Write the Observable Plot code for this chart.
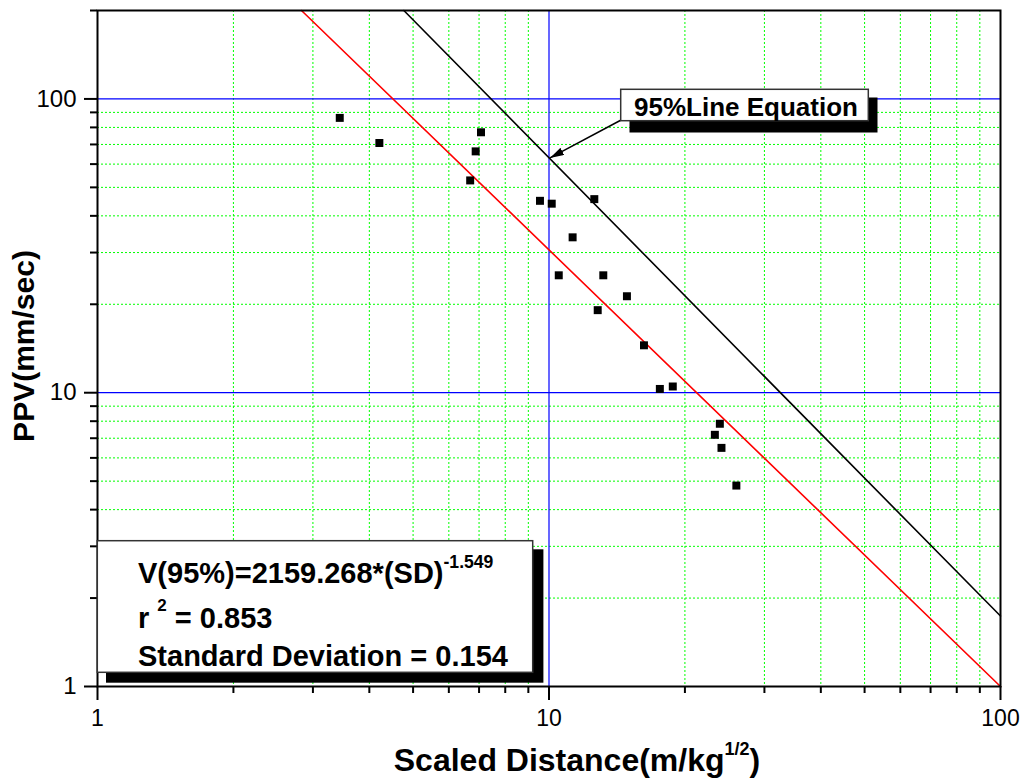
<!DOCTYPE html>
<html><head><meta charset="utf-8">
<script src="https://cdn.jsdelivr.net/npm/d3@7"></script>
<script src="https://cdn.jsdelivr.net/npm/@observablehq/plot@0.6"></script>
<style>body{margin:0;background:#fff} svg{display:block}</style>
</head><body><div id="chart"></div>
<script>
// Scatter data: scaled distance (m/kg^1/2) vs PPV (mm/sec)
const sd  = [3.44, 4.21, 7.07, 6.88, 6.69, 9.55, 10.14, 12.6, 11.28, 10.51, 13.19, 14.88, 12.82, 16.23, 17.6, 18.8, 23.9, 23.3, 24.1, 26.0];
const ppv = [86.2, 70.8, 77.0, 66.3, 52.8, 45.0, 44.0, 45.6, 33.8, 25.1, 25.1, 21.3, 19.1, 14.5, 10.3, 10.5, 7.84, 7.19, 6.49, 4.83];

// Regression (red) and 95% (black) lines, end points
const fitSD = [2.83, 100], fitPPV = [200, 1];
const l95SD = [4.77, 100], l95PPV = [200, 1.737];

// Arrow of the "95%Line Equation" label
const arrowSD = [14.41, 10.05], arrowPPV = [84.6, 63.0];

// Ticks / grid
const minorX = [2,3,4,5,6,7,8,9,20,30,40,50,60,70,80,90];
const minorY = [2,3,4,5,6,7,8,9,20,30,40,50,60,70,80,90,200];
const majorX = [1,10,100];
const majorY = [1,10,100];
const blueX = [10];
const blueY = [10,100];

// Texts
const eqMain = "V(95%)=2159.268*(SD)", eqExp = "-1.549";
const r2Text = "= 0.853";
const sdText = "Standard Deviation = 0.154";
const labelText = "95%Line Equation";

const points = sd.map((d, i) => ({sd: d, ppv: ppv[i]}));
const fitLine = fitSD.map((d, i) => ({sd: d, ppv: fitPPV[i]}));
const line95 = l95SD.map((d, i) => ({sd: d, ppv: l95PPV[i]}));
const arrow = [{x1: arrowSD[0], y1: arrowPPV[0], x2: arrowSD[1], y2: arrowPPV[1]}];

const chart = Plot.plot({
  width: 1033, height: 779,
  marginLeft: 97, marginRight: 33, marginTop: 10, marginBottom: 93,
  x: {type: "log", domain: [1, 100]},
  y: {type: "log", domain: [1, 200]},
  style: {fontFamily: "'Liberation Sans', Arial, sans-serif", background: "white", overflow: "visible", color: "black"},
  marks: [
    Plot.ruleX(minorX, {stroke: "#00ff00", strokeDasharray: "2,2", strokeWidth: 1}),
    Plot.ruleY(minorY.filter(v => v < 200), {stroke: "#00ff00", strokeDasharray: "2,2", strokeWidth: 1}),
    Plot.ruleX(blueX, {stroke: "#0000ff", strokeWidth: 1.2}),
    Plot.ruleY(blueY, {stroke: "#0000ff", strokeWidth: 1.2}),
    Plot.line(fitLine, {x: "sd", y: "ppv", stroke: "#ff0000", strokeWidth: 1.6}),
    Plot.line(line95, {x: "sd", y: "ppv", stroke: "black", strokeWidth: 1.6}),
    Plot.dot(points, {x: "sd", y: "ppv", symbol: "square", r: 4.5, fill: "black", stroke: "none"}),
    Plot.link(arrow, {x1: "x1", y1: "y1", x2: "x2", y2: "y2", stroke: "black", strokeWidth: 1.5}),
    Plot.axisX(minorX, {tickSize: 7, strokeWidth: 2, tickFormat: () => "", label: null}),
    Plot.axisX(majorX, {tickSize: 14, tickPadding: 9, strokeWidth: 2, fontSize: 23, tickFormat: d => String(d), label: null}),
    Plot.axisY(minorY, {tickSize: 7, strokeWidth: 2, tickFormat: () => "", label: null}),
    Plot.axisY(majorY, {tickSize: 13, tickPadding: 8, strokeWidth: 2, fontSize: 24, tickFormat: d => String(d), label: null}),
    Plot.frame({stroke: "black", strokeWidth: 2})
  ]
});
document.getElementById("chart").appendChild(chart);

const svg = d3.select(chart);
// filled arrow head
const defs = svg.append("defs");
defs.append("marker").attr("id", "ahead").attr("viewBox", "0 0 14 8")
  .attr("refX", 14).attr("refY", 4).attr("markerWidth", 14).attr("markerHeight", 8)
  .attr("markerUnits", "userSpaceOnUse").attr("orient", "auto")
  .append("path").attr("d", "M0,0L14,4L0,8Z").attr("fill", "black");
svg.selectAll("g[aria-label=link] path").attr("marker-end", "url(#ahead)");

const g = svg.append("g").attr("font-family", "'Liberation Sans', Arial, sans-serif")
  .attr("font-weight", "bold").attr("fill", "black").attr("text-anchor", "start");

// 95% label box
g.append("rect").attr("x", 629.5).attr("y", 97.5).attr("width", 248).attr("height", 35).attr("fill", "black");
g.append("rect").attr("x", 620.7).attr("y", 89.3).attr("width", 247.6).attr("height", 31.4).attr("fill", "white").attr("stroke", "#333").attr("stroke-width", 1.5);
g.append("text").attr("x", 634).attr("y", 115.7).attr("font-size", 26).text(labelText);

// equation box
g.append("rect").attr("x", 106).attr("y", 549.3).attr("width", 437.4).attr("height", 133.4).attr("fill", "black");
g.append("rect").attr("x", 97.3).attr("y", 540.7).attr("width", 435.4).attr("height", 131.6).attr("fill", "white").attr("stroke", "#333").attr("stroke-width", 1.5);
const t1 = g.append("text").attr("x", 138).attr("y", 583.3).attr("font-size", 29);
t1.append("tspan").text(eqMain);
t1.append("tspan").attr("font-size", 17.6).attr("dy", -15).text(eqExp);
const t2 = g.append("text").attr("x", 138).attr("y", 628.3).attr("font-size", 29);
t2.append("tspan").text("r ");
t2.append("tspan").attr("font-size", 17).attr("dy", -17.5).text("2");
t2.append("tspan").attr("dy", 17.5).text(" " + r2Text);
g.append("text").attr("x", 138).attr("y", 665.7).attr("font-size", 29).text(sdText);

// axis titles
const xt = g.append("text").attr("x", 577).attr("y", 770.7).attr("font-size", 32).attr("text-anchor", "middle");
xt.append("tspan").text("Scaled Distance(m/kg");
xt.append("tspan").attr("font-size", 18).attr("dy", -15.7).text("1/2");
xt.append("tspan").attr("dy", 15.7).text(")");
g.append("text").attr("transform", "translate(33.5,346) rotate(-90)").attr("font-size", 30).attr("text-anchor", "middle").text("PPV(mm/sec)");
</script>
</body></html>
